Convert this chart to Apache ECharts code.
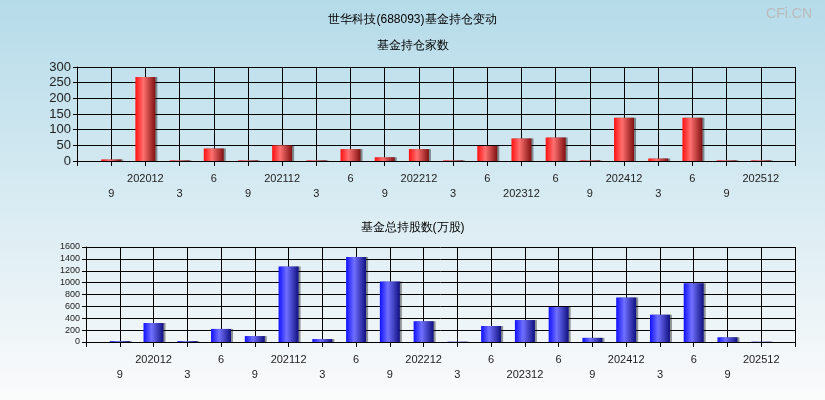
<!DOCTYPE html><html><head><meta charset="utf-8"><script src="https://cdn.jsdelivr.net/npm/echarts@6/dist/echarts.min.js"></script>
<style>html,body{margin:0;padding:0}#c{width:825px;height:400px;background:linear-gradient(#b5dbe9,#fbfbfb)}</style></head><body><div id="c"></div><script>
const categories=['','202009','202012','202103','202106','202109','202112','202203','202206','202209','202212','202303','202306','202312','202406','202409','202412','202503','202506','202509','202512',''];
const holders=[null,5,268,2,40,2,50,2,38,12,38,2,48,72,75,2,138,8,138,2,2,null];
const shares=[null,15,320,15,220,100,1270,50,1430,1020,350,5,270,370,590,70,750,460,990,80,5,null];
const fmt=(v,i)=>{if(!v)return '';const m=v.slice(4);const s=m==='12'?v:String(+m);return (i%2===1)?'\n'+s:s;};
const grad=(a,b,c)=>new echarts.graphic.LinearGradient(0,0,1,0,[{offset:0,color:a},{offset:0.4,color:b},{offset:1,color:c}]);
const xa=(g,fs)=>({type:'category',gridIndex:g,data:categories,boundaryGap:false,axisLine:{lineStyle:{color:'#000'}},axisTick:{show:true,interval:0,length:5,lineStyle:{color:'#000'}},axisLabel:{interval:0,formatter:fmt,color:'#222',fontSize:11,lineHeight:15,margin:10},splitLine:{show:true,interval:0,lineStyle:{color:'#000'}}});
const ch=echarts.init(document.getElementById('c'));
ch.setOption({animation:false,
title:[{text:'世华科技(688093)基金持仓变动',left:'center',top:9,textStyle:{fontSize:12,fontWeight:'normal',color:'#000'}},
{text:'基金持仓家数',left:'center',top:35,textStyle:{fontSize:12,fontWeight:'normal',color:'#000'}},
{text:'基金总持股数(万股)',left:'center',top:217,textStyle:{fontSize:12,fontWeight:'normal',color:'#000'}},
{text:'CFi.CN',right:8,top:2,textStyle:{fontSize:14,fontWeight:'normal',color:'#bbb'}}],
grid:[{left:77,right:30,top:67,height:94},{left:86,right:30,top:247,height:95}],
xAxis:[xa(0),xa(1)],
yAxis:[{type:'value',gridIndex:0,min:0,max:300,interval:50,axisLine:{show:true,lineStyle:{color:'#000'}},axisTick:{show:true,length:4,lineStyle:{color:'#000'}},axisLabel:{color:'#222',fontSize:13,margin:6},splitLine:{lineStyle:{color:'#000'}}},
{type:'value',gridIndex:1,min:0,max:1600,interval:200,axisLine:{show:true,lineStyle:{color:'#000'}},axisTick:{show:true,length:4,lineStyle:{color:'#000'}},axisLabel:{color:'#222',fontSize:9,margin:6,formatter:v=>String(v)},splitLine:{lineStyle:{color:'#000'}}}],
series:[{type:'bar',xAxisIndex:0,yAxisIndex:0,data:holders,barWidth:20,itemStyle:{color:grad('#ff1010','#ff7070','#801010'),shadowColor:'rgba(0,0,0,0.4)',shadowOffsetX:2}},
{type:'bar',xAxisIndex:1,yAxisIndex:1,data:shares,barWidth:20,itemStyle:{color:grad('#1010ff','#7070ff','#101080'),shadowColor:'rgba(0,0,0,0.4)',shadowOffsetX:2}}]});
</script></body></html>
